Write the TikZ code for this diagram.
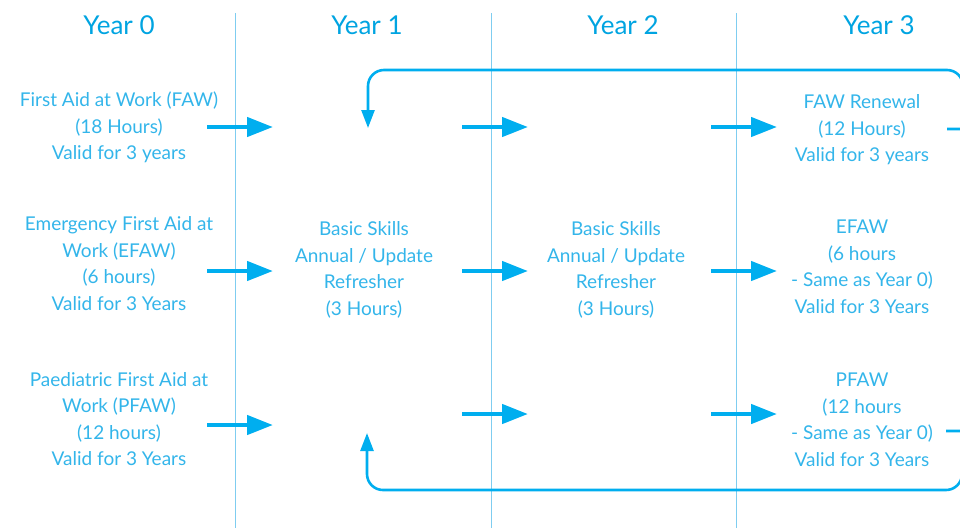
\documentclass[tikz,border=0pt]{standalone}
\usepackage{fontspec}
\setmainfont{Lato}
\usetikzlibrary{arrows.meta}
\definecolor{txt}{HTML}{33B5EA}
\definecolor{hdr}{HTML}{00A4E1}
\definecolor{arr}{HTML}{00AEEF}
\definecolor{divc}{HTML}{7FCDF0}
\tikzset{
  hdrtext/.style={text=hdr,font=\fontsize{26}{30}\selectfont,anchor=center,inner sep=0pt},
  bodytext/.style={text=txt,font=\fontsize{19}{26.5}\selectfont,align=center,anchor=center,inner sep=0pt},
  bigarrow/.style={draw=arr,line width=4.5pt,-{Triangle[length=26pt,width=19pt]},fill=arr},
  looparrow/.style={draw=arr,line width=2.6pt,-{Triangle[length=18pt,width=13pt]}},
  divider/.style={draw=divc,line width=1pt}
}
\begin{document}
\begin{tikzpicture}[x=1pt,y=-1pt]
\useasboundingbox (0,0) rectangle (960,528);
\clip (0,0) rectangle (960,528);
% dividers
\coordinate (d1t) at (235,13); \coordinate (d1b) at (235,528);
\coordinate (d2t) at (491,13); \coordinate (d2b) at (491,528);
\coordinate (d3t) at (736,13); \coordinate (d3b) at (736,528);
\draw[divider] (d1t) -- (d1b);
\draw[divider] (d2t) -- (d2b);
\draw[divider] (d3t) -- (d3b);
% headers
\node[hdrtext] (h0) at (119,25) {Year 0};
\node[hdrtext] (h1) at (367,25) {Year 1};
\node[hdrtext] (h2) at (623,25) {Year 2};
\node[hdrtext] (h3) at (879,25) {Year 3};
% year 0
\node[bodytext] (faw) at (119,127.5) {First Aid at Work (FAW)\\(18 Hours)\\Valid for 3 years};
\node[bodytext] (efaw) at (119,263.5) {Emergency First Aid at\\Work (EFAW)\\(6 hours)\\Valid for 3 Years};
\node[bodytext] (pfaw) at (119,419) {Paediatric First Aid at\\Work (PFAW)\\(12 hours)\\Valid for 3 Years};
% year 1, 2
\node[bodytext] (b1) at (364,270) {Basic Skills\\Annual / Update\\Refresher\\(3 Hours)};
\node[bodytext] (b2) at (616,270) {Basic Skills\\Annual / Update\\Refresher\\(3 Hours)};
% year 3
\node[bodytext] (fawr) at (862,130) {FAW Renewal\\(12 Hours)\\Valid for 3 years};
\node[bodytext] (efawr) at (862,267) {EFAW\\(6 hours\\- Same as Year 0)\\Valid for 3 Years};
\node[bodytext] (pfawr) at (862,420) {PFAW\\(12 hours\\- Same as Year 0)\\Valid for 3 Years};
% arrow coordinates
\coordinate (a1s) at (207,127); \coordinate (a1e) at (273,127);
\coordinate (a2s) at (462,127); \coordinate (a2e) at (528,127);
\coordinate (a3s) at (711,127); \coordinate (a3e) at (777,127);
\coordinate (b1s) at (207,271); \coordinate (b1e) at (273,271);
\coordinate (b2s) at (462,271); \coordinate (b2e) at (528,271);
\coordinate (b3s) at (711,271); \coordinate (b3e) at (777,271);
\coordinate (c1s) at (207,425); \coordinate (c1e) at (273,425);
\coordinate (c2s) at (462,414); \coordinate (c2e) at (528,414);
\coordinate (c3s) at (711,414); \coordinate (c3e) at (777,414);
\draw[bigarrow] (a1s) -- (a1e);
\draw[bigarrow] (a2s) -- (a2e);
\draw[bigarrow] (a3s) -- (a3e);
\draw[bigarrow] (b1s) -- (b1e);
\draw[bigarrow] (b2s) -- (b2e);
\draw[bigarrow] (b3s) -- (b3e);
\draw[bigarrow] (c1s) -- (c1e);
\draw[bigarrow] (c2s) -- (c2e);
\draw[bigarrow] (c3s) -- (c3e);
% loops
\coordinate (ltS) at (947,129);
\coordinate (ltE) at (368,128);
\coordinate (lbS) at (946,431);
\coordinate (lbE) at (367,433);
\draw[looparrow] (ltS) -- (963,129) [rounded corners=16pt] -- (963,70) -- (368,70) -- (ltE);
\draw[looparrow] (lbS) -- (962,431) [rounded corners=16pt] -- (962,490) -- (367,490) -- (lbE);
\end{tikzpicture}
\end{document}
